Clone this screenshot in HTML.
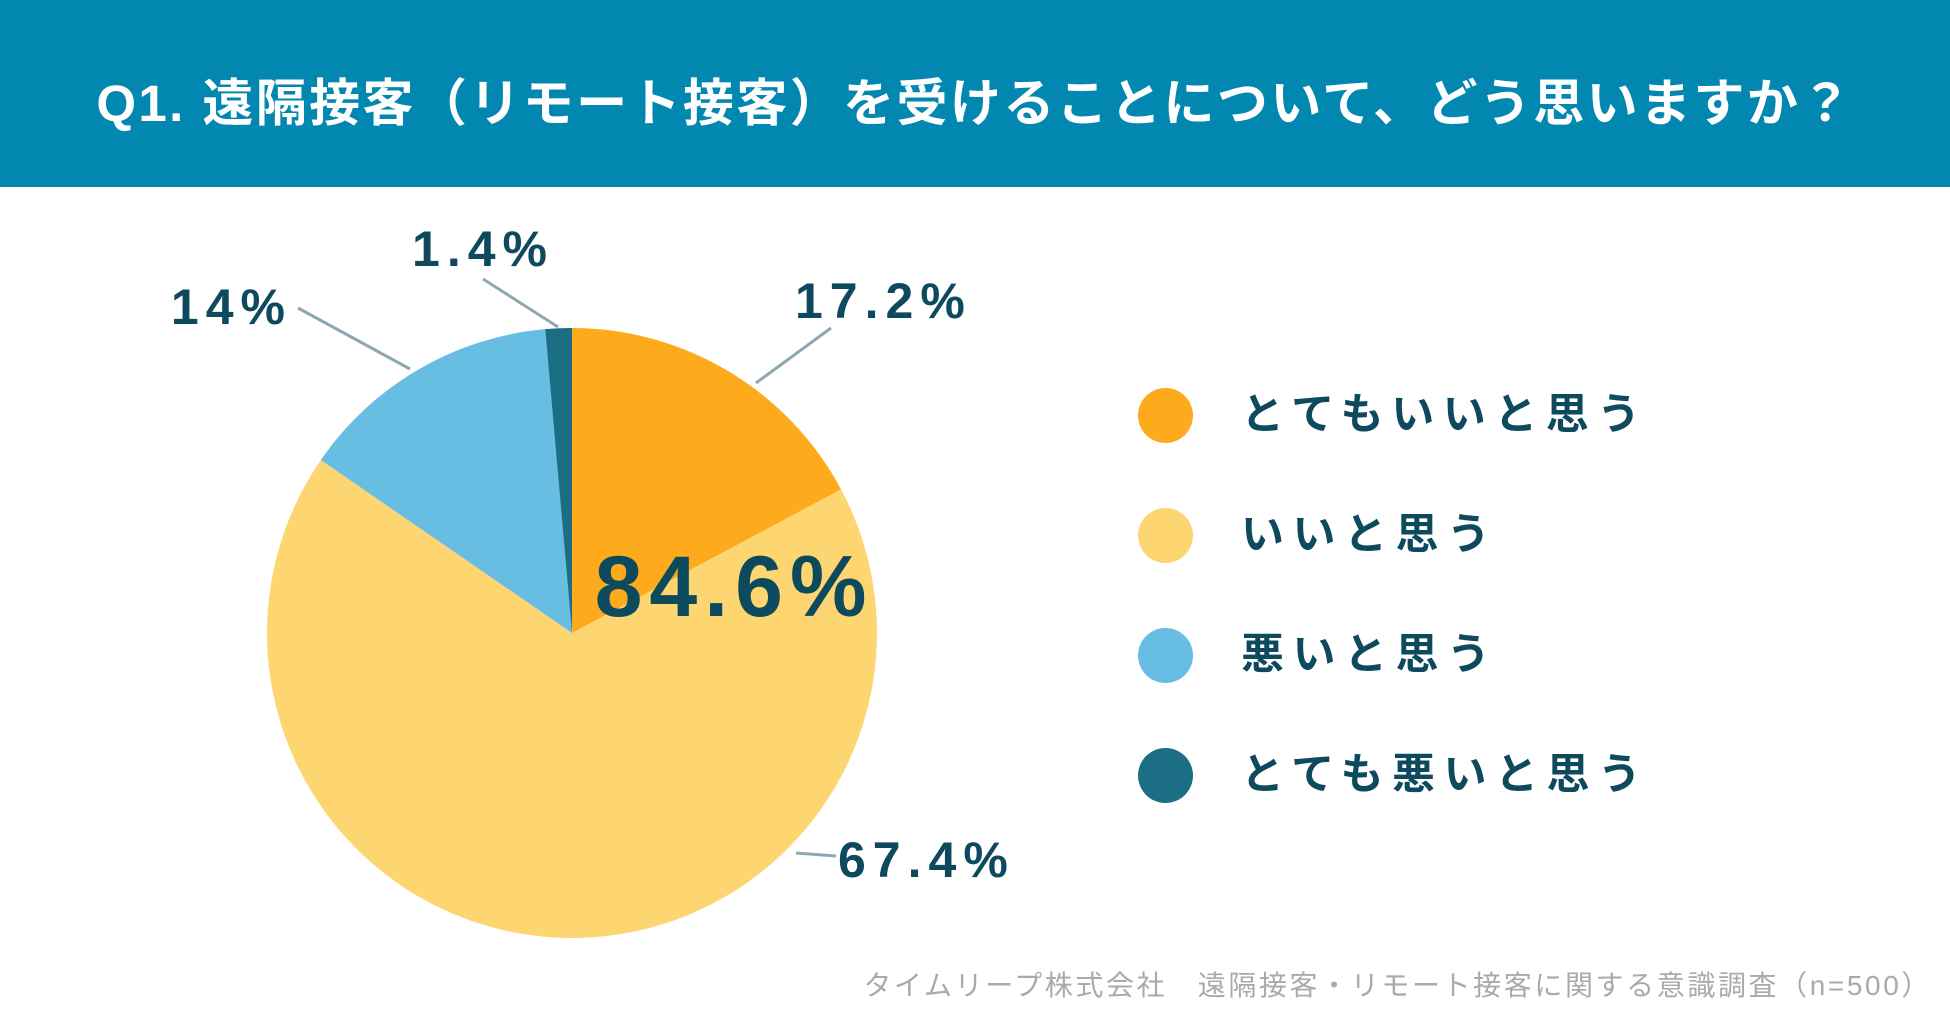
<!DOCTYPE html>
<html><head><meta charset="utf-8"><style>
body{margin:0;width:1950px;height:1021px;background:#fff;overflow:hidden;font-family:"Liberation Sans","Noto Sans CJK JP",sans-serif}
#hdr{position:absolute;left:0;top:0;width:1950px;height:187px;background:#0288B0}
#title{position:absolute;left:0;width:1950px;top:70px;text-align:center;color:#fff;font-weight:bold;font-size:51px;line-height:68px;letter-spacing:2.4px}
.leg{position:absolute;left:1138px;height:60px}
.leg .dot{position:absolute;left:0;top:3px;width:55px;height:55px;border-radius:50%}
.leg .t{position:absolute;left:103px;top:0;white-space:nowrap;font-size:43px;font-weight:bold;color:#0E4A5E;letter-spacing:8.5px;line-height:60px}
#foot{position:absolute;right:18px;top:964px;font-size:28px;color:#aaa;letter-spacing:2.6px;white-space:nowrap}
</style></head><body>
<div id="hdr"><div id="title">Q1. 遠隔接客（リモート接客）を受けることについて、どう思いますか？</div></div>
<svg id="pie" width="1950" height="1021" style="position:absolute;left:0;top:0"></svg>
<div class="leg" style="top:385px"><div class="dot" style="background:#FDAA1D"></div><div class="t">とてもいいと思う</div></div>
<div class="leg" style="top:505px"><div class="dot" style="background:#FDD671"></div><div class="t">いいと思う</div></div>
<div class="leg" style="top:625px"><div class="dot" style="background:#67BDE2"></div><div class="t">悪いと思う</div></div>
<div class="leg" style="top:745px"><div class="dot" style="background:#1C6E85"></div><div class="t">とても悪いと思う</div></div>
<div id="foot">タイムリープ株式会社　遠隔接客・リモート接客に関する意識調査（n=500）</div>
<script>
const categories=["とてもいいと思う","いいと思う","悪いと思う","とても悪いと思う"];
const values=[17.2,67.4,14,1.4];
const labels=["17.2%","67.4%","14%","1.4%"];
const colors=["#FDAA1D","#FDD671","#67BDE2","#1C6E85"];
const cx=572,cy=633,r=305;
const svg=document.getElementById('pie');
const NS="http://www.w3.org/2000/svg";
const total=values.reduce((a,b)=>a+b,0);
function pt(a,rad){return [cx+rad*Math.sin(a),cy-rad*Math.cos(a)];}
let a0=0;
values.forEach((v,i)=>{
  const a1=a0+v/total*2*Math.PI;
  const p0=pt(a0,r),p1=pt(a1,r);
  const large=(a1-a0)>Math.PI?1:0;
  const path=document.createElementNS(NS,'path');
  path.setAttribute('d',`M${cx},${cy}L${p0[0]},${p0[1]}A${r},${r} 0 ${large} 1 ${p1[0]},${p1[1]}Z`);
  path.setAttribute('fill',colors[i]);
  
  
  svg.appendChild(path);
  a0=a1;
});
// leader lines + labels (layout positions)
const starts=[[756,383],[796,853],[410,369],[558,327]];
const ends=[[831,328],[836,856],[298,308],[483,279]];
const lpos=[[795,318,'start'],[838,877,'start'],[292,324,'end'],[483,266,'middle']];
values.forEach((v,i)=>{
  const e=ends[i],s=starts[i];
  const ln=document.createElementNS(NS,'line');
  ln.setAttribute('x1',s[0]);ln.setAttribute('y1',s[1]);ln.setAttribute('x2',e[0]);ln.setAttribute('y2',e[1]);
  ln.setAttribute('stroke','#8FA7B0');ln.setAttribute('stroke-width','3');
  
  
  svg.appendChild(ln);
  const t=document.createElementNS(NS,'text');
  t.setAttribute('x',lpos[i][0]);t.setAttribute('y',lpos[i][1]);t.setAttribute('text-anchor',lpos[i][2]);
  t.setAttribute('font-size','50');t.setAttribute('font-weight','bold');t.setAttribute('fill','#0E4A5E');
  t.setAttribute('letter-spacing','7');
  t.setAttribute('font-family','"Liberation Sans", sans-serif');
  t.textContent=labels[i];
  
  
  svg.appendChild(t);
});
const c=document.createElementNS(NS,'text');
c.setAttribute('x',734);c.setAttribute('y',616);c.setAttribute('text-anchor','middle');
c.setAttribute('font-size','86');c.setAttribute('font-weight','bold');c.setAttribute('fill','#0E4A5E');
c.setAttribute('letter-spacing','7');
c.setAttribute('font-family','"Liberation Sans", sans-serif');
c.textContent=(values[0]+values[1]).toFixed(1)+'%';


svg.appendChild(c);
</script>
</body></html>
